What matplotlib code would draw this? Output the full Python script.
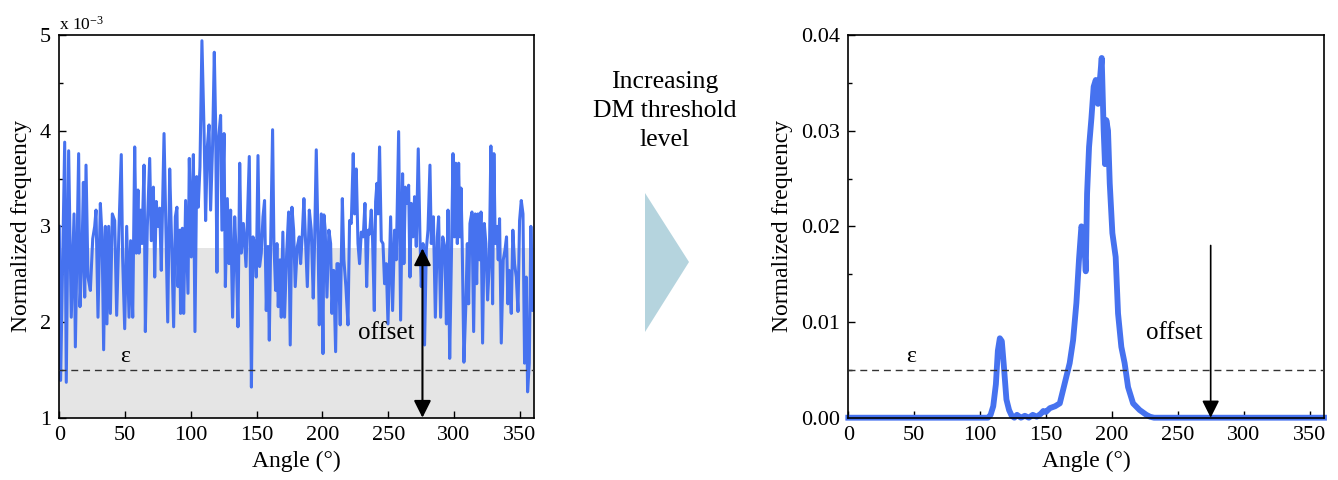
import matplotlib
matplotlib.use("Agg")
import matplotlib.pyplot as plt
from matplotlib.patches import Polygon
from matplotlib.ticker import MultipleLocator

plt.rcParams["font.family"] = ["Liberation Serif", "DejaVu Serif"]
plt.rcParams["mathtext.fontset"] = "custom"
plt.rcParams["mathtext.rm"] = "Liberation Serif"
plt.rcParams["mathtext.it"] = "Liberation Serif:italic"

# ---- low threshold: raw normalized frequency (units of 1e-3) ----
raw_angle = [
    0, 1, 4.1, 5.3, 7.1, 9.1, 11.2, 12.2, 14.7, 15.7, 17.2, 18.3, 19.3, 20.3, 21.8, 23.6,
    25.4, 26.9, 27.9, 29.4, 31.2, 32.5, 33.7, 35, 36.2, 37.5, 38.8, 40.3, 42.1, 43.6, 45.4,
    47.1, 48.1, 49.7, 51.2, 53, 54.2, 55.8, 57.3, 58.5,
    59.8, 60.6, 61.8, 62.8, 64.4, 65.4, 66.9, 68.7, 69.9, 71.5, 72.5, 73.7, 75, 76.3, 77.5,
    79.6, 81.1, 82.4, 83.9, 85.4, 86.9, 88.2, 89.4, 90.2, 91.4, 92.2, 93.5, 94.5, 96, 97.8,
    98.8, 100.3, 101.9, 103.1, 104.4, 105.6, 106.9, 108.4, 110, 111.2, 112.5, 113.8, 115,
    116.5, 117.8, 118.8, 119.8,
    120.6, 122.6, 123.6, 125.2, 126.2, 127.7, 129, 130.2, 131.7, 133.3, 134.5, 135.8, 137.1,
    138.3, 139.9, 141.9, 144.4, 146, 147.2, 148.5, 149.7, 151, 152.2, 153.5, 154.8, 156,
    157.3, 158.6, 159.6, 160.6, 162.1, 163.1, 164.4, 165.4, 166.4, 167.7, 168.7, 169.9,
    171.2, 172.8, 174.3, 175.5, 176.8, 178.1, 179.3, 180.9,
    182.4, 183.4, 184.7, 185.9, 187.2, 188.5, 190, 191.5, 193, 194, 195.3, 196.6, 197.6,
    199.1, 200.4, 201.1, 202.1, 203.4, 204.9, 206.2, 207.2, 208.5, 210, 211, 212, 213.5,
    215.1, 216.3, 217.8, 219.4, 220.6, 221.9, 223.4, 224.4, 225.7, 227, 228.2, 229.5, 231,
    232.3, 233.6, 234.8, 235.8, 237.1, 238.1, 239.4, 240.4, 241.4,
    242.2, 243.4, 244.7, 246, 247.2, 248.5, 249.8, 251.8, 253.3, 254.8, 256.1, 257.9, 259.4,
    260.9, 261.9, 263, 264.2, 265.5, 266.5, 267.5, 268.8, 270, 271.3, 272.8, 274.1, 275.1,
    276.4, 277.6, 278.9, 280.2, 281.7, 282.7, 284.3, 285.8, 287.3, 288.3, 289.8, 291.4,
    292.9, 294.2, 295.4, 296.7, 298, 299.2, 300.2, 301.3, 302.5,
    303.5, 304.5, 305.3, 306.2, 307.5, 309, 310.1, 311.1, 312.1, 313.6, 314.9, 316.1, 317.2,
    318.2, 319.4, 320.5, 321.7, 323, 324.2, 325.5, 326.8, 328, 329.3, 330.3, 331.3, 332.6,
    333.6, 334.6, 335.9, 337.4, 338.7, 339.9, 340.9, 341.9, 343.5, 344.7, 346, 347.3, 348.6,
    349.8, 351.1, 352.4, 353.6, 354.9, 355.9, 357.2, 358.4, 359.7, 360.7,
]
raw_freq_e3 = [
    3.0, 1.39, 3.88, 1.37, 3.79, 2.05, 3.13, 1.74, 3.76, 2.16, 2.68, 3.46, 2.26, 3.64, 2.47, 2.33,
    2.87, 3.0, 3.17, 2.05, 3.24, 2.89, 1.71, 3.0, 1.98, 3.0, 2.09, 3.13, 3.06, 2.07, 3.0,
    3.75, 2.68, 1.93, 3.0, 2.05, 2.85, 2.05, 3.83, 2.72,
    3.38, 2.72, 3.17, 2.82, 3.64, 1.9, 3.0, 3.71, 2.85, 3.41, 2.47, 3.26, 3.0, 3.19, 2.54,
    3.97, 2.89, 2.0, 3.6, 2.82, 1.95, 3.1, 3.2, 2.37, 2.96, 2.09, 2.98, 2.09, 3.27, 2.3,
    3.71, 2.68, 3.75, 1.9, 3.52, 3.2, 3.62, 4.94, 4.0, 3.06, 3.83, 4.06, 3.17,
    3.85, 4.82, 4.07, 2.52,
    3.85, 4.16, 2.96, 3.97, 2.37, 3.29, 2.61, 3.17, 2.05, 3.1, 2.68, 1.95, 3.66,
    2.72, 3.03, 2.58, 3.73, 1.32, 2.89, 2.82, 2.47, 3.74, 2.58, 2.72, 3.1, 3.27,
    2.12, 2.79, 1.81, 2.79, 4.01, 2.82, 2.33, 2.82, 2.16, 2.65, 2.05, 2.94,
    2.05, 2.72, 3.15, 1.76, 3.2, 2.96, 2.37, 2.79,
    2.89, 2.61, 2.92, 3.29, 2.82, 2.37, 3.17, 2.96, 2.25, 2.82, 3.8, 2.89, 1.97,
    3.13, 1.67, 3.12, 2.96, 2.26, 2.96, 2.82, 2.09, 2.54, 1.69, 2.61, 2.61, 1.97,
    3.29, 2.65, 2.37, 1.97, 3.06, 3.03, 3.76, 3.13, 3.6, 2.82, 2.61, 2.94, 2.89,
    3.24, 2.37, 2.96, 2.92, 3.17, 2.85, 2.12, 3.26, 3.45,
    3.13, 3.83, 2.85, 2.82, 2.4, 2.61, 1.98, 3.1, 2.12, 2.96, 2.65, 3.99, 2.02,
    3.55, 2.61, 3.41, 3.24, 3.43, 2.47, 3.24, 2.89, 3.31, 2.79, 3.81, 2.89, 2.37,
    2.82, 1.76, 2.75, 2.96, 3.64, 2.82, 3.1, 2.05, 2.89, 3.1, 2.05, 2.89,
    2.79, 1.98, 3.17, 1.62, 2.68, 3.76, 2.89, 3.66, 2.82,
    3.66, 2.89, 3.4, 2.82, 1.58, 2.19, 2.82, 2.19, 3.03, 3.15, 1.9, 3.13, 2.4,
    3.13, 2.65, 3.15, 1.78, 3.03, 2.82, 2.23, 2.61, 3.84, 2.19, 3.76, 2.82, 3.0,
    2.65, 3.08, 1.78, 2.65, 2.75, 2.89, 2.19, 2.54, 2.09, 2.96, 2.61, 2.47, 2.11,
    3.06, 3.27, 3.13, 1.57, 2.47, 1.27, 1.57, 3.0, 2.12, 2.15,
]
raw_offset_e3 = 2.77
raw_eps_e3 = 1.5

# ---- high threshold: filtered normalized frequency ----
filt_angle = [
    0, 106, 108, 110, 112, 113.5, 115, 116.5, 118, 120, 122, 124, 126, 128, 131, 134, 137,
    140, 143, 146, 148, 150, 153, 157, 160.5, 163, 165.5, 168, 170.6, 173.1, 175.1, 176.9,
    178.7, 180.2, 181.2, 182.7, 184.5, 186.2, 187.8, 189.5, 190.8, 192.3, 193.8, 194.8,
    195.8, 197.1, 198.4, 200.4, 202.9, 204.7, 207.2, 209.7, 212.3, 216.1, 221.1, 226.2,
    229, 232, 361,
]
filt_freq = [
    0, 0, 0.0003, 0.0012, 0.0035, 0.0070, 0.0083, 0.0080, 0.0055, 0.0019, 0.0008, 0.0002,
    0, 0.0003, 0, 0.0002, 0, 0.0003, 0.0001, 0.0004, 0.0007, 0.0006, 0.0010, 0.0012,
    0.0015, 0.0029, 0.0043, 0.0057, 0.0081, 0.0120, 0.0166, 0.0200, 0.0193, 0.0153,
    0.0234, 0.0283, 0.0313, 0.0346, 0.0353, 0.0328, 0.0351, 0.0376, 0.0300, 0.0265,
    0.0311, 0.0300, 0.0245, 0.0193, 0.0168, 0.0109, 0.0074, 0.0057, 0.0032, 0.0015,
    0.0008, 0.0003, 0.0001, 0, 0,
]
filt_offset = 0.018
filt_eps = 0.005

arrow_angle = 276
blue = "#4672ef"
W, H = 1338, 480

fig = plt.figure(figsize=(W / 100, H / 100), dpi=100)
ax1 = fig.add_axes([59.3 / W, 1 - 417.7 / H, 475 / W, 382.7 / H])
ax2 = fig.add_axes([848.3 / W, 1 - 417.7 / H, 475.7 / W, 382.7 / H])


def style(ax):
    for s in ax.spines.values():
        s.set_linewidth(1.2)
    ax.tick_params(which="both", direction="in", labelsize=16, top=False, right=False,
                   width=1.0)
    ax.tick_params(which="major", length=5, pad=6)
    ax.tick_params(which="minor", length=3)
    ax.set_xlim(0, 361)
    ax.xaxis.set_major_locator(MultipleLocator(50))
    ax.set_xlabel("Angle (°)", fontsize=17, labelpad=4)
    ax.set_ylabel("Normalized frequency", fontsize=17, labelpad=6)


# left panel
ax1.axhspan(1, raw_offset_e3, color="#e5e5e5", lw=0, zorder=0)
ax1.plot(raw_angle, raw_freq_e3, color=blue, lw=2.2, zorder=2)
ax1.axhline(raw_eps_e3, color="#333333", lw=1.0, ls=(0, (5, 3.5)), zorder=3)
ax1.text(50, raw_eps_e3 + 0.03, "ε", fontsize=17, ha="center", va="bottom")
ax1.annotate("", xy=(arrow_angle, raw_offset_e3), xytext=(arrow_angle, 1.0),
             arrowprops=dict(arrowstyle="<|-|>", color="black", lw=1.5,
                             mutation_scale=26, shrinkA=0, shrinkB=0), zorder=4)
ax1.text(270, 1.885, "offset", fontsize=18, ha="right", va="center", zorder=4)
ax1.set_ylim(1, 5)
ax1.yaxis.set_major_locator(MultipleLocator(1))
ax1.yaxis.set_minor_locator(MultipleLocator(0.5))
ax1.text(0.0, 1.004, "x 10$^{-3}$", transform=ax1.transAxes, fontsize=12.5,
         ha="left", va="bottom")
style(ax1)

# right panel
ax2.plot(filt_angle, filt_freq, color=blue, lw=4.2, zorder=2, clip_on=False,
         solid_joinstyle="round")
ax2.axhline(filt_eps, color="#333333", lw=1.0, ls=(0, (5, 3.5)), zorder=3)
ax2.text(48, filt_eps + 0.0003, "ε", fontsize=17, ha="center", va="bottom")
ax2.annotate("", xy=(arrow_angle - 1, 0), xytext=(arrow_angle - 1, filt_offset),
             arrowprops=dict(arrowstyle="-|>", color="black", lw=1.2,
                             mutation_scale=26, shrinkA=0, shrinkB=0), zorder=4)
ax2.text(269, 0.00885, "offset", fontsize=18, ha="right", va="center", zorder=4)
ax2.set_ylim(0, 0.04)
ax2.yaxis.set_major_locator(MultipleLocator(0.01))
ax2.yaxis.set_minor_locator(MultipleLocator(0.005))
ax2.yaxis.set_major_formatter(plt.FuncFormatter(lambda v, p: f"{v:.2f}"))
style(ax2)

# middle annotation
fig.text(665 / W, 1 - 111 / H, "Increasing\nDM threshold\nlevel", fontsize=18.5,
         ha="center", va="center", linespacing=1.4)
tri = Polygon([(645 / W, 1 - 193 / H), (645 / W, 1 - 332 / H), (689 / W, 1 - 262 / H)],
              closed=True, transform=fig.transFigure, facecolor="#b5d4de",
              edgecolor="none")
fig.patches.append(tri)

fig.savefig("out.png", dpi=100)
